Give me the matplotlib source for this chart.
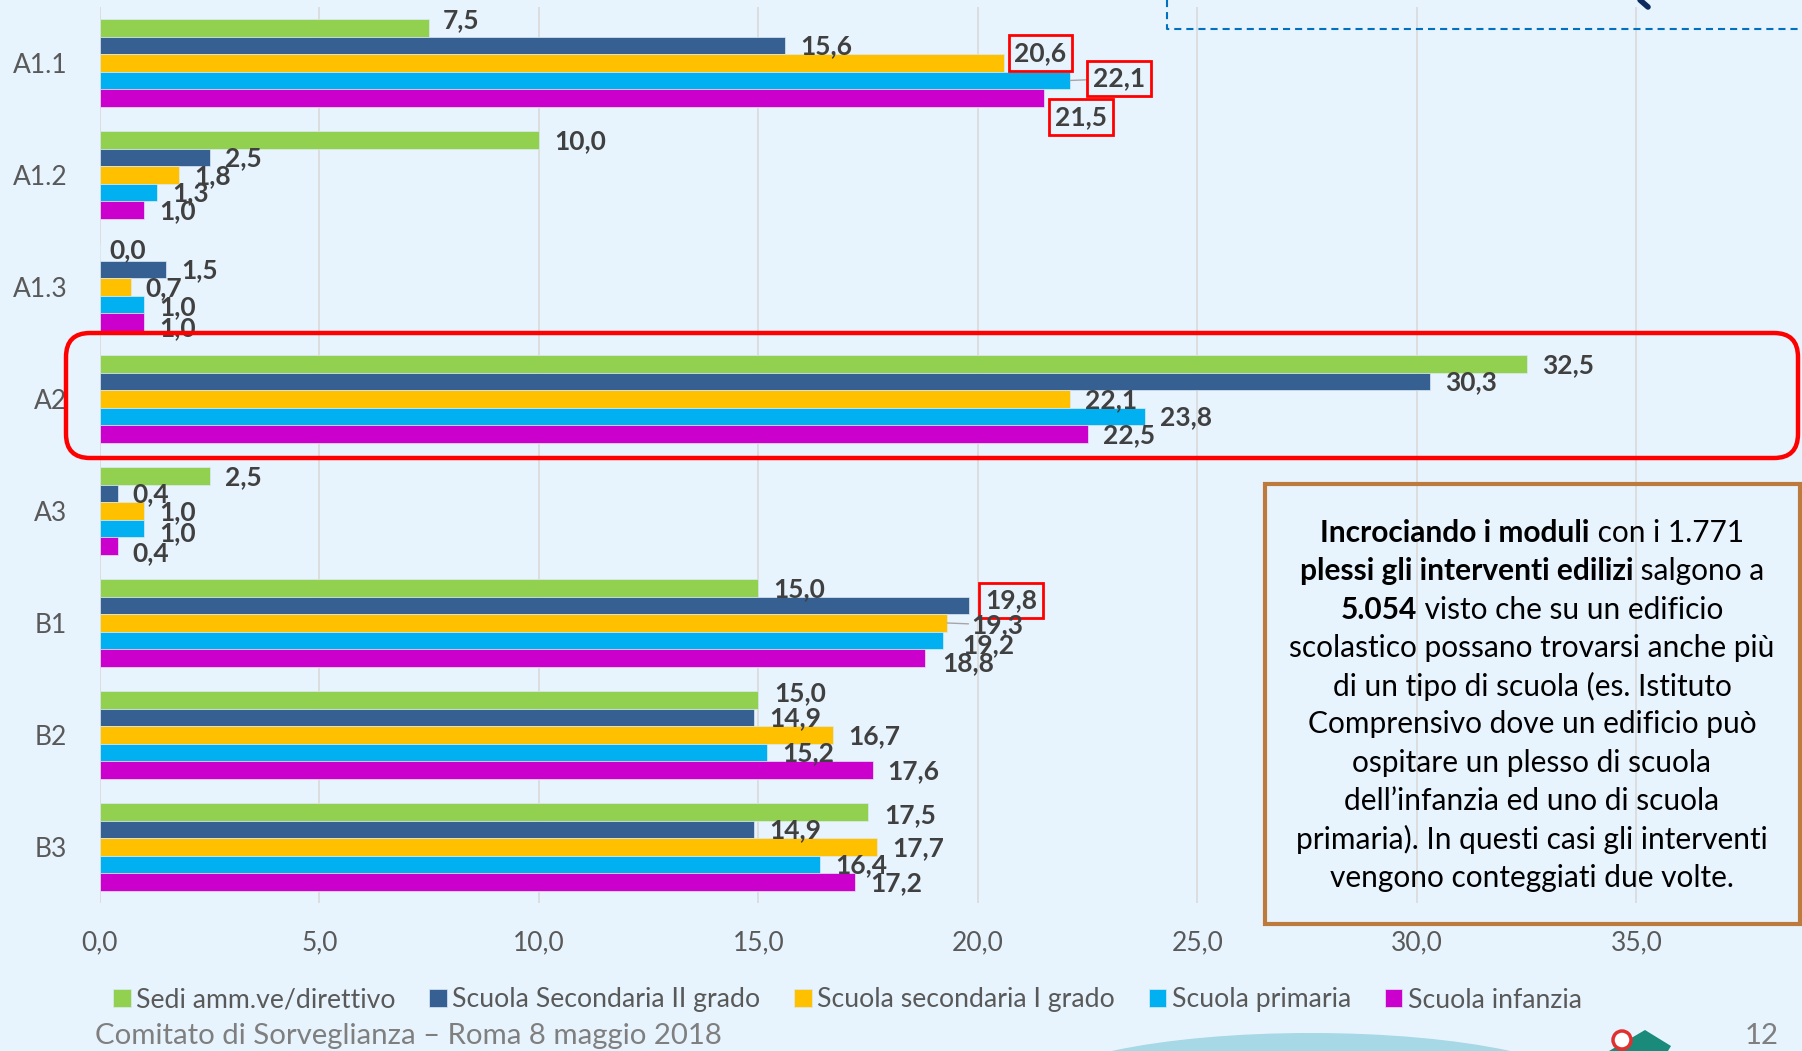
import numpy as np
import matplotlib.pyplot as plt
from matplotlib.patches import Rectangle, FancyBboxPatch, Ellipse, Polygon, Circle

# ============================== DATA ==============================
categories = ['A1.1', 'A1.2', 'A1.3', 'A2', 'A3', 'B1', 'B2', 'B3']
series = ['Sedi amm.ve/direttivo', 'Scuola Secondaria II grado',
          'Scuola secondaria I grado', 'Scuola primaria', 'Scuola infanzia']
sedi     = [7.5, 10.0, 0.0, 32.5, 2.5, 15.0, 15.0, 17.5]
sec_II   = [15.6, 2.5, 1.5, 30.3, 0.4, 19.8, 14.9, 14.9]
sec_I    = [20.6, 1.8, 0.7, 22.1, 1.0, 19.3, 16.7, 17.7]
primaria = [22.1, 1.3, 1.0, 23.8, 1.0, 19.2, 15.2, 16.4]
infanzia = [21.5, 1.0, 1.0, 22.5, 0.4, 18.8, 17.6, 17.2]
xticks = [0, 5, 10, 15, 20, 25, 30, 35]

note_lines = [
    [('Incrociando i moduli', 'bold'), (' con i 1.771', 'normal')],
    [('plessi gli interventi edilizi', 'bold'), (' salgono a', 'normal')],
    [('5.054', 'bold'), (' visto che su un edificio', 'normal')],
    [('scolastico possano trovarsi anche più', 'normal')],
    [('di un tipo di scuola (es. Istituto', 'normal')],
    [('Comprensivo dove un edificio può', 'normal')],
    [('ospitare un plesso di scuola', 'normal')],
    [('dell’infanzia ed uno di scuola', 'normal')],
    [('primaria). In questi casi gli interventi', 'normal')],
    [('vengono conteggiati due volte.', 'normal')],
]
footer = 'Comitato di Sorveglianza – Roma 8 maggio 2018'
page = '12'

# ============================== STYLE ==============================
plt.rcParams['font.family'] = ['Lato', 'DejaVu Sans']
bg = '#E8F4FD'
colors = ['#92D050', '#366092', '#FFC000', '#00B0F0', '#CC00CC']
lbl_col = '#404040'
tick_col = '#595959'
fs = 19

# label nudges (category/series index -> gap px right of bar, px down)
nudge = {(0, 0): (14, -8), (0, 2): (10, -10), (0, 3): (23, -2), (0, 4): (11, 19),
         (2, 0): (9, -2), (2, 3): (15, 3), (2, 4): (15, 6),
         (4, 3): (15, 5), (4, 4): (15, 7),
         (5, 1): (16, -5), (5, 2): (24, 2), (5, 3): (19, 5), (5, 4): (17, 5),
         (6, 0): (16, -7), (7, 0): (16, 3)}
boxed = [(0, 2), (0, 3), (0, 4), (5, 1)]
leader = [(0, 3), (5, 2)]

W, H = 1802, 1051
px = 43.9  # pixels per unit on x
x0, ytop, ybot = 100, 7, 903

fig = plt.figure(figsize=(W/100, H/100), dpi=100, facecolor=bg)
ax = fig.add_axes([x0/W, 1-ybot/H, 1-x0/W, (ybot-ytop)/H])
ax.set_facecolor(bg)

# ============================== BARS ==============================
allvals = [sedi, sec_II, sec_I, primaria, infanzia]
ypos = np.arange(len(categories))
bh = 0.78/5
for j, (vals, c, name) in enumerate(zip(allvals, colors, series)):
    ax.barh(ypos + (j-2)*bh, vals, height=bh, color=c, label=name,
            edgecolor='#DCEAF4', linewidth=0.5, zorder=2)

for j, vals in enumerate(allvals):
    for i, v in enumerate(vals):
        dx, dy = nudge.get((i, j), (15, 1))
        kw = {}
        if (i, j) in boxed:
            kw['bbox'] = dict(boxstyle='square,pad=0.22', fc=bg, ec='#FF0000', lw=2)
        if (i, j) in leader:
            kw['arrowprops'] = dict(arrowstyle='-', color='#A6A6A6', lw=1,
                                    shrinkA=0, shrinkB=0)
        ax.annotate(f'{v:.1f}'.replace('.', ','), (v, ypos[i] + (j-2)*bh),
                    xytext=(dx, -dy), textcoords='offset pixels',
                    ha='left', va='center', fontsize=fs, weight='bold',
                    color=lbl_col, zorder=6, **kw)

ax.set_xlim(0, (W-x0)/px)
ax.set_ylim(len(categories)-0.5, -0.5)
ax.set_xticks(xticks)
ax.set_xticklabels([f'{t:.1f}'.replace('.', ',') for t in xticks])
ax.set_yticks(ypos)
ax.set_yticklabels(categories)
ax.tick_params(axis='x', length=0, pad=20, labelsize=fs, labelcolor=tick_col)
ax.tick_params(axis='y', length=0, pad=23.5, labelsize=fs, labelcolor=tick_col)
ax.grid(axis='x', color='#D9D9D9', lw=1.2, zorder=0)
ax.set_axisbelow(True)
for s in ax.spines.values():
    s.set_visible(False)

leg = fig.legend(loc='center left', bbox_to_anchor=(113/W, 1-1000/H), ncol=5,
                 frameon=False, fontsize=19.2, handlelength=0.66, handleheight=0.62,
                 handletextpad=0.2, columnspacing=1.27, borderaxespad=0,
                 borderpad=0, labelcolor=tick_col)

# ============================== OVERLAY (pixel coords) ==============================
ov = fig.add_axes([0, 0, 1, 1])
ov.set_xlim(0, W)
ov.set_ylim(H, 0)
ov.axis('off')

# highlight of A2
ov.add_patch(FancyBboxPatch((66, 333), 1732, 125, boxstyle='round,pad=0,rounding_size=24',
                            fc='none', ec='#FF0000', lw=3.2))

# note box
ov.add_patch(Rectangle((1265, 484), 535, 440, fc='none', ec='#BC7A3C', lw=3))
fig.canvas.draw()
r = fig.canvas.get_renderer()
for k, parts in enumerate(note_lines):
    yy = 533 + k*38.3
    ts = [ov.text(0, yy, s, weight=w, fontsize=21.5, color='black',
                  ha='left', va='center') for s, w in parts]
    ws = [t.get_window_extent(r).width for t in ts]
    xx = 1532 - sum(ws)/2
    for t, wd in zip(ts, ws):
        t.set_x(xx)
        xx += wd

# dashed box at the top
ov.plot([1167, 1167, W], [0, 29, 29], color='#0070C0', lw=1.5, dashes=(3.4, 2.4))
ov.plot([1640, 1648], [0, 7], color='#0D2A5E', lw=4, solid_capstyle='round')

# footer
ov.text(95, 1036, footer, ha='left', va='center', fontsize=21.2, color='#7F7F7F')
ov.text(1779, 1036, page, ha='right', va='center', fontsize=21.2, color='#7F7F7F')
ov.add_patch(Ellipse((1311, 1093), 558, 120, fc='#A6D8E5', ec='none'))
ov.add_patch(Polygon([(1609, 1051), (1645, 1030), (1671, 1046), (1668, 1051)],
                     fc='#1A8A7A', ec='none'))
ov.add_patch(Circle((1622, 1040), 9, fc='white', ec='#E03030', lw=2.5))

fig.savefig('out.png', dpi=100)
